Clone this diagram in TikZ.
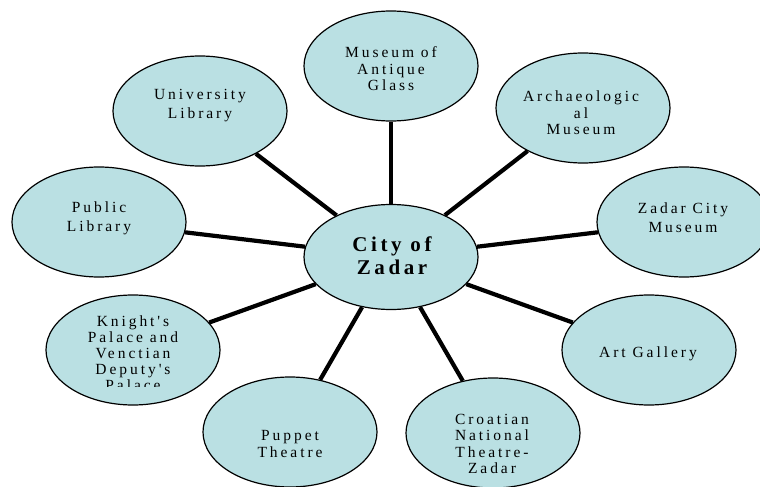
\documentclass[tikz,border=0pt]{standalone}
\usepackage{fontspec}
\setmainfont{Liberation Serif}
\newfontfamily\lblfont[LetterSpace=19]{Liberation Serif}
\newfontfamily\ctrfont[LetterSpace=17]{Liberation Serif}
\usetikzlibrary{shapes.geometric}
\definecolor{bub}{RGB}{186,224,227}
\tikzset{
  bubble/.style={ellipse, draw=black, line width=1.2pt, fill=bub,
    minimum width=174pt, minimum height=110pt, inner sep=0pt},
  lbl/.style={align=center, font=\lblfont\fontsize{15.5}{16.5}\selectfont, inner sep=0pt},
  lblwide/.style={lbl, font=\lblfont\fontsize{15.5}{19}\selectfont},
  ctr/.style={align=center, font=\ctrfont\bfseries\fontsize{21}{23}\selectfont, inner sep=0pt},
  conn/.style={line width=4.2pt}
}
\begin{document}
\begin{tikzpicture}[x=1pt,y=-1pt]
\useasboundingbox (0,0) rectangle (760,487);
\clip (0,0) rectangle (760,487);
\fill[white] (0,0) rectangle (760,487);
% nodes
\node[bubble, minimum height=105pt] (c) at (391,257) {};
\node[bubble] (mag) at (391,66) {};
\node[bubble] (uni) at (200,111) {};
\node[bubble] (arc) at (583,108) {};
\node[bubble] (pub) at (99,222) {};
\node[bubble] (zcm) at (684,222) {};
\node[bubble] (kni) at (133,350) {};
\node[bubble] (art) at (649,350) {};
\node[bubble] (pup) at (290,432) {};
\node[bubble] (cro) at (493,433) {};
% connectors
\foreach \n in {mag,uni,arc,pub,zcm,kni,art,pup,cro}
  \draw[conn] (c) -- (\n);
% labels
\node[ctr] (tc) at (392,256) {City of\\Zadar};
\node[lbl] (tmag) at (391,69) {Museum of\\Antique\\Glass};
\node[lblwide] (tuni) at (200,106) {University\\Library};
\node[lbl] (tarc) at (581,113) {Archaeologic\\al\\Museum};
\node[lblwide] (tpub) at (99,218) {Public\\Library};
\node[lblwide] (tzcm) at (683,218) {Zadar City\\Museum};
\node[lbl] (tart) at (648,354) {Art Gallery};
\begin{scope}
\clip (40,306) rectangle (230,386);
\node[lbl, font=\lblfont\fontsize{15.5}{16}\selectfont] (tkni) at (133,353) {Knight's\\Palace and\\Venctian\\Deputy's\\Palace};
\end{scope}
\node[lblwide, font=\lblfont\fontsize{15.5}{17}\selectfont] (tpup) at (290,444) {Puppet\\Theatre};
\node[lbl] (tcro) at (492,444) {Croatian\\National\\Theatre-\\Zadar};
\end{tikzpicture}
\end{document}
